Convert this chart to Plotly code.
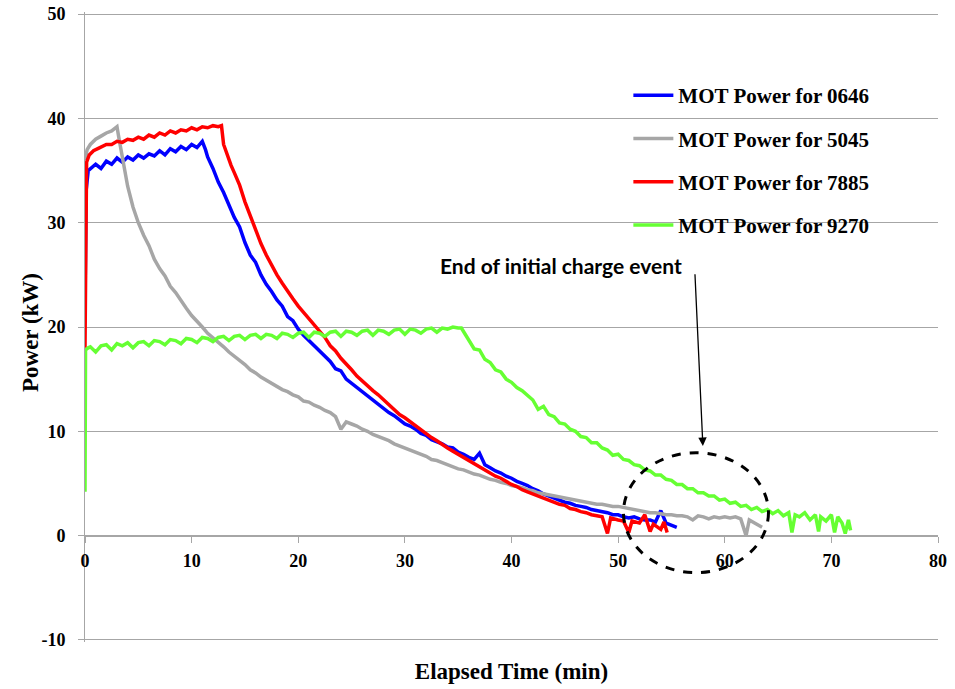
import plotly.graph_objects as go

# ---------------- data ----------------
series_names = ["MOT Power for 0646", "MOT Power for 5045", "MOT Power for 7885", "MOT Power for 9270"]
series_colors = ["#0000FF", "#A6A6A6", "#FF0000", "#66FF33"]

t_0646 = [0, 0.1, 0.3, 0.6, 1, 1.5, 2, 2.5, 3, 3.5, 4, 4.5, 5, 5.5, 6, 6.5, 7, 7.5, 8, 8.5, 9, 9.5, 10, 10.5, 11, 11.3,
          11.5, 12, 12.5, 13, 13.5, 14, 14.5, 15, 15.5, 16, 16.5, 17, 17.5, 18, 18.5, 19, 19.5, 20, 20.5, 21, 21.5, 22,
          22.5, 23, 23.5, 24, 24.5, 25, 25.5, 26, 26.5, 27, 27.5, 28, 28.5, 29, 29.5, 30, 30.5, 31, 31.5, 32, 32.5, 33,
          33.5, 34, 34.5, 35, 35.5, 36, 36.5, 37, 37.5, 38, 38.5, 39, 39.5, 40, 40.5, 41, 41.5, 42, 42.5, 43, 43.5, 44,
          44.5, 45, 45.5, 46, 46.5, 47, 47.5, 48, 48.5, 49, 49.5, 50, 50.5, 51, 51.5, 52, 52.5, 53, 53.5, 54, 54.5, 55, 55.5]
p_0646 = [22, 33, 35.0, 35.3, 35.6, 35.2, 35.9, 35.6, 36.2, 35.8, 36.3, 36.0, 36.5, 36.2, 36.6, 36.4, 36.9, 36.5, 37.1, 36.8, 37.3, 37.0, 37.5, 37.2, 37.8, 37.0,
          36.3, 35.2, 33.9, 32.9, 31.6, 30.5, 29.6, 28.1, 26.9, 26.2, 25.0, 24.1, 23.4, 22.6, 22.0, 21.0, 20.6, 19.8, 19.2, 18.7, 18.2, 17.6,
          17.1, 16.7, 16.0, 15.8, 15.0, 14.6, 14.2, 13.8, 13.3, 13.0, 12.5, 12.2, 11.8, 11.5, 11.1, 10.7, 10.5, 10.2, 9.8, 9.6, 9.2, 9.0,
          8.8, 8.5, 8.4, 8.0, 7.8, 7.5, 7.3, 7.9, 6.8, 6.5, 6.2, 6.0, 5.7, 5.5, 5.2, 5.0, 4.8, 4.5, 4.3, 4.0, 3.8, 3.6,
          3.4, 3.2, 3.1, 2.9, 2.8, 2.7, 2.5, 2.4, 2.3, 2.2, 2.0, 2.0, 1.8, 1.7, 1.8, 1.6, 1.5, 1.5, 1.3, 2.4, 1.2, 1.0, 0.8]

t_5045 = [0, 0.2, 0.5, 1, 1.5, 2, 2.5, 3, 3.2, 3.5, 4, 4.5, 5, 5.5, 6, 6.5, 7, 7.5, 8, 8.5, 9, 9.5, 10, 10.5, 11, 11.5,
          12, 12.5, 13, 13.5, 14, 14.5, 15, 15.5, 16, 16.5, 17, 17.5, 18, 18.5, 19, 19.5, 20, 20.5, 21, 21.5, 22, 22.5,
          23, 23.5, 24, 24.5, 25, 25.5, 26, 26.5, 27, 27.5, 28, 28.5, 29, 29.5, 30, 30.5, 31, 31.5, 32, 32.5, 33, 33.5,
          34, 34.5, 35, 35.5, 36, 36.5, 37, 37.5, 38, 38.5, 39, 39.5, 40, 40.5, 41, 41.5, 42, 42.5, 43, 43.5, 44, 44.5,
          45, 45.5, 46, 46.5, 47, 47.5, 48, 48.5, 49, 49.5, 50, 50.5, 51, 51.5, 52, 52.5, 53, 53.5, 54, 54.5, 55, 55.5,
          56, 56.5, 57, 57.5, 58, 58.5, 59, 59.5, 60, 60.5, 61, 61.5, 62, 62.3, 62.8, 63.2, 63.5]
p_5045 = [36.0, 37.0, 37.5, 38.0, 38.3, 38.6, 38.8, 39.2, 38.0, 36.3, 33.5, 31.5, 30.0, 28.8, 27.8, 26.5, 25.6, 24.9, 23.9, 23.3, 22.5, 21.8, 21.1, 20.6, 20.0, 19.4,
          19.0, 18.5, 18.1, 17.6, 17.2, 16.9, 16.4, 15.9, 15.6, 15.2, 14.9, 14.6, 14.3, 14.0, 13.8, 13.5, 13.3, 12.9, 12.8, 12.5, 12.3, 12.0,
          11.8, 11.4, 10.2, 10.9, 10.7, 10.5, 10.2, 10.0, 9.7, 9.5, 9.3, 9.1, 8.8, 8.6, 8.4, 8.2, 8.0, 7.8, 7.6, 7.3, 7.2, 7.0,
          6.8, 6.6, 6.4, 6.3, 6.1, 5.9, 5.8, 5.6, 5.4, 5.3, 5.1, 5.0, 4.8, 4.7, 4.6, 4.4, 4.3, 4.1, 4.0, 3.9, 3.8, 3.7,
          3.6, 3.5, 3.4, 3.3, 3.2, 3.1, 3.0, 3.0, 2.9, 2.8, 2.8, 2.7, 2.6, 2.5, 2.4, 2.3, 2.2, 2.2, 2.1, 2.0, 2.0, 1.9,
          1.9, 1.8, 1.5, 1.9, 1.8, 1.6, 1.8, 1.7, 1.8, 1.7, 1.8, 1.6, 0.0, 1.5, 1.2, 1.0, 0.8]

t_7885 = [0, 0.05, 0.15, 0.4, 0.8, 1.2, 1.6, 2, 2.5, 3, 3.5, 4, 4.5, 5, 5.5, 6, 6.5, 7, 7.5, 8, 8.5, 9, 9.5, 10, 10.5, 11,
          11.5, 12, 12.5, 12.8, 13, 13.3, 13.7, 14, 14.5, 15, 15.5, 16, 16.5, 17, 17.5, 18, 18.5, 19, 19.5, 20, 20.5, 21,
          21.5, 22, 22.5, 23, 23.5, 24, 24.5, 25, 25.5, 26, 26.5, 27, 27.5, 28, 28.5, 29, 29.5, 30, 30.5, 31, 31.5, 32,
          32.5, 33, 33.5, 34, 34.5, 35, 35.5, 36, 36.5, 37, 37.5, 38, 38.5, 39, 39.5, 40, 40.5, 41, 41.5, 42, 42.5, 43,
          43.5, 44, 44.5, 45, 45.5, 46, 46.5, 47, 47.5, 48, 48.5, 49, 49.3, 50, 50.5, 51, 51.3, 52, 52.5, 53, 53.3, 54,
          54.3, 54.6]
p_7885 = [18.0, 30.0, 35.8, 36.5, 36.9, 37.1, 37.3, 37.5, 37.5, 37.8, 37.7, 38.0, 37.9, 38.2, 38.0, 38.4, 38.2, 38.6, 38.4, 38.8, 38.6, 38.9, 38.8, 39.1, 38.9, 39.2,
          39.1, 39.3, 39.2, 39.3, 37.5, 36.6, 35.5, 34.8, 33.6, 32.0, 30.6, 29.3, 28.0, 26.9, 25.9, 25.0, 24.2, 23.4, 22.7, 22.0, 21.4, 20.8,
          20.2, 19.5, 19.0, 18.2, 17.7, 17.0, 16.5, 15.9, 15.3, 14.8, 14.4, 13.9, 13.5, 13.0, 12.5, 12.1, 11.6, 11.3, 10.9, 10.5, 10.1, 9.8,
          9.4, 9.1, 8.7, 8.4, 8.1, 7.8, 7.5, 7.2, 6.9, 6.6, 6.3, 6.0, 5.7, 5.5, 5.2, 4.9, 4.7, 4.4, 4.2, 4.0, 3.8, 3.6,
          3.4, 3.2, 3.0, 2.9, 2.6, 2.5, 2.3, 2.2, 2.0, 1.9, 1.8, 0.2, 1.7, 1.5, 1.4, 0.3, 1.4, 1.2, 2.0, 0.4, 1.1, 0.6,
          1.3, 0.3]

t_9270 = [0, 0.05, 0.3, 0.5, 1, 1.5, 2, 2.5, 3, 3.5, 4, 4.5, 5, 5.5, 6, 6.5, 7, 7.5, 8, 8.5, 9, 9.5, 10, 10.5, 11, 11.5,
          12, 12.5, 13, 13.5, 14, 14.5, 15, 15.5, 16, 16.5, 17, 17.5, 18, 18.5, 19, 19.5, 20, 20.5, 21, 21.5, 22, 22.5,
          23, 23.5, 24, 24.5, 25, 25.5, 26, 26.5, 27, 27.5, 28, 28.5, 29, 29.5, 30, 30.5, 31, 31.5, 32, 32.5, 33, 33.5,
          34, 34.5, 35, 35.3, 35.6, 36, 36.5, 37, 37.5, 38, 38.5, 39, 39.5, 40, 40.5, 41, 41.5, 42, 42.5, 43, 43.5, 44,
          44.5, 45, 45.5, 46, 46.5, 47, 47.5, 48, 48.5, 49, 49.5, 50, 50.5, 51, 51.5, 52, 52.5, 53, 53.5, 54, 54.5, 55,
          55.5, 56, 56.5, 57, 57.5, 58, 58.5, 59, 59.5, 60, 60.5, 61, 61.5, 62, 62.5, 63, 63.5, 64, 64.5, 65, 65.5, 66,
          66.3, 66.6, 67, 67.5, 68, 68.5, 68.8, 69, 69.5, 70, 70.3, 70.6, 71, 71.3, 71.6, 71.8]
p_9270 = [4.2, 17.8, 18.0, 18.1, 17.6, 18.2, 18.3, 17.8, 18.4, 18.2, 18.5, 18.0, 18.5, 18.6, 18.2, 18.7, 18.6, 18.3, 18.8, 18.7, 18.4, 18.9, 18.8, 18.5, 19.0, 18.9,
          18.6, 19.0, 19.1, 18.7, 19.1, 19.2, 18.8, 19.2, 19.3, 18.9, 19.3, 19.2, 18.9, 19.4, 19.3, 19.0, 19.4, 19.5, 19.0, 19.5, 19.4, 19.1,
          19.5, 19.6, 19.1, 19.6, 19.5, 19.2, 19.6, 19.7, 19.2, 19.7, 19.6, 19.3, 19.7, 19.8, 19.3, 19.8, 19.7, 19.4, 19.8, 19.9, 19.5, 19.9,
          19.8, 20.0, 19.9, 19.9, 19.4, 18.8, 17.9, 17.8, 16.9, 16.6, 15.9, 15.7, 15.0, 14.7, 14.2, 13.9, 13.4, 13.0, 12.1, 12.4, 11.6, 11.4,
          10.8, 10.7, 10.2, 10.0, 9.5, 9.4, 8.9, 8.9, 8.4, 8.2, 7.7, 7.8, 7.3, 7.2, 6.8, 6.7, 6.3, 6.2, 5.8, 5.8, 5.4, 5.3,
          4.9, 4.9, 4.5, 4.5, 4.1, 4.1, 3.8, 3.8, 3.4, 3.5, 3.1, 3.2, 2.8, 2.9, 2.5, 2.7, 2.3, 2.5, 2.1, 2.4, 1.9, 2.2,
          0.3, 2.0, 1.8, 2.2, 1.5, 2.0, 0.4, 1.8, 1.4, 2.0, 0.3, 1.8, 1.2, 0.2, 1.5, 0.5]

x_ticks = [0, 10, 20, 30, 40, 50, 60, 70, 80]
y_ticks = [-10, 0, 10, 20, 30, 40, 50]
y_tick_labels = ["-10", "0", "10", "20", "30", "40", "50"]

annotation_text = "End of initial charge event"
x_title = "Elapsed Time (min)"
y_title = "Power (kW)"

# ---------------- figure ----------------
SERIF = "Liberation Serif, Times New Roman, serif"
SANS = "Lato, Liberation Sans, sans-serif"
GRID = "#A6A6A6"

fig = go.Figure()
for name, color, t, p in zip(series_names, series_colors,
                             [t_0646, t_5045, t_7885, t_9270],
                             [p_0646, p_5045, p_7885, p_9270]):
    fig.add_trace(go.Scatter(x=t, y=p, mode="lines", name=name, legendgroup=name,
                             line=dict(color=color, width=3.5)))

# dashed ellipse + arrow
fig.add_shape(type="circle", xref="x", yref="y", x0=50.5, x1=64.1, y0=-3.55, y1=7.95,
              line=dict(color="black", width=3, dash="dash"))
fig.add_annotation(x=57.95, y=8.6, ax=57.2, ay=25.2, xref="x", yref="y", axref="x", ayref="y",
                   text="", showarrow=True, arrowhead=2, arrowsize=1.3, arrowwidth=1.3, arrowcolor="black")
fig.add_annotation(x=44.6, y=25.9, xref="x", yref="y", text=annotation_text, showarrow=False,
                   font=dict(family=SANS, size=21, color="black", weight="bold"))
# y-axis title
fig.add_annotation(x=-0.0645, y=0.492, xref="paper", yref="paper", text=y_title, showarrow=False,
                   textangle=-90, xanchor="center", yanchor="middle",
                   font=dict(family=SERIF, size=23, color="black", weight="bold"))

Y_LO, Y_HI = -10.2, 50.2

fig.update_layout(
    width=955, height=689,
    margin=dict(l=85, r=17, t=12, b=47, autoexpand=False),
    paper_bgcolor="white", plot_bgcolor="white",
    showlegend=True,
    legend=dict(x=0.637, y=0.9, xanchor="left", yanchor="top", bgcolor="rgba(0,0,0,0)",
                font=dict(family=SERIF, size=21, color="black", weight="bold"),
                tracegroupgap=13, itemwidth=40),
    xaxis=dict(range=[0, 80], tickvals=x_ticks, showgrid=False, zeroline=False,
               showline=True, linecolor=GRID, linewidth=1, automargin=False,
               ticks="outside", ticklen=6, tickcolor=GRID, ticklabelstandoff=3,
               anchor="free", position=(0 - Y_LO) / (Y_HI - Y_LO),
               tickfont=dict(family=SERIF, size=18, color="black", weight="bold"),
               title=dict(text=x_title, standoff=92,
                          font=dict(family=SERIF, size=23, color="black", weight="bold"))),
    yaxis=dict(range=[Y_LO, Y_HI], tickvals=y_ticks, ticktext=y_tick_labels,
               showgrid=True, gridcolor=GRID, gridwidth=1, automargin=False,
               zeroline=False, showline=True, linecolor=GRID, linewidth=1,
               ticks="outside", ticklen=6, tickcolor=GRID, ticklabelstandoff=9,
               tickfont=dict(family=SERIF, size=18, color="black", weight="bold")),
)

fig.write_html("out.html")
